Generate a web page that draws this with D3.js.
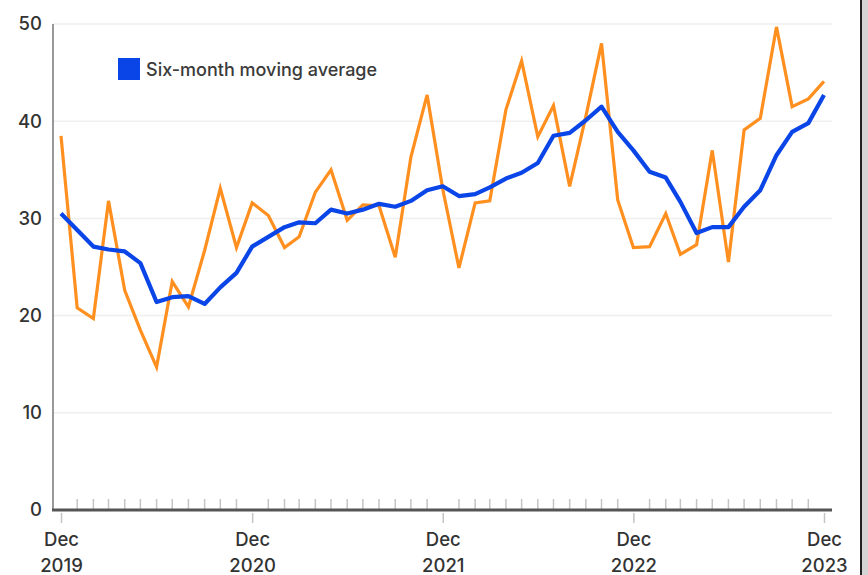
<!DOCTYPE html>
<html>
<head>
<meta charset="utf-8">
<script src="https://cdn.jsdelivr.net/npm/d3@7"></script>
<style>
  html, body { margin: 0; padding: 0; background: #fff; }
  svg { display: block; font-family: Inter, "Noto Sans", sans-serif; }
  .tick text { fill: #333; }
</style>
</head>
<body>
<div id="chart"></div>
<script>
// monthly values, Dec 2019 .. Dec 2023
var startMonth = '2019-12';
var monthly = [
  38.5, 20.8, 19.7, 31.8, 22.6, 18.5, 14.7, 23.5, 20.9, 26.7, 33.1, 27.0,
  31.6, 30.3, 27.0, 28.1, 32.7, 35.0, 29.8, 31.4, 31.3, 26.0, 36.3, 42.7,
  33.0, 24.9, 31.6, 31.8, 41.2, 46.2, 38.4, 41.6, 33.3, 40.5, 48.0, 31.9,
  27.0, 27.1, 30.5, 26.3, 27.3, 37.0, 25.5, 39.1, 40.3, 49.7, 41.5, 42.3,
  44.1
];
var movingAvg = [
  30.5, 28.8, 27.1, 26.8, 26.6, 25.4, 21.4, 21.9, 22.0, 21.2, 22.9, 24.4,
  27.1, 28.1, 29.1, 29.6, 29.5, 30.9, 30.5, 30.9, 31.5, 31.2, 31.8, 32.9,
  33.3, 32.3, 32.5, 33.2, 34.1, 34.7, 35.7, 38.5, 38.8, 40.1, 41.5, 38.9,
  37.0, 34.8, 34.2, 31.7, 28.5, 29.1, 29.1, 31.2, 32.9, 36.5, 38.9, 39.8,
  42.7
];
var yTicks = [0, 10, 20, 30, 40, 50];
var legendLabel = 'Six-month moving average';

var width = 868, height = 575;
var orange = '#ff8f1f', blue = '#0a45e8';
var font = 'Inter, "Noto Sans", sans-serif';

var parse = d3.utcParse('%Y-%m');
var t0 = parse(startMonth);
var months = monthly.map(function(v, i) { return d3.utcMonth.offset(t0, i); });

var x = d3.scaleUtc()
  .domain([months[0], months[months.length - 1]])
  .range([61, 824]);
var y = d3.scaleLinear()
  .domain([0, 50])
  .range([510, 24]);

var svg = d3.select('#chart').append('svg')
  .attr('width', width)
  .attr('height', height);

// right frame edge
svg.append('rect')
  .attr('x', 862).attr('y', 0).attr('width', 6).attr('height', height)
  .attr('fill', '#d4d4d4');
svg.append('rect')
  .attr('x', 860).attr('y', 0).attr('width', 2).attr('height', height)
  .attr('fill', '#222');

// gridlines
svg.append('g')
  .selectAll('line')
  .data(yTicks.slice(1))
  .enter().append('line')
  .attr('x1', 53)
  .attr('x2', 832)
  .attr('y1', function(d) { return y(d); })
  .attr('y2', function(d) { return y(d); })
  .attr('stroke', '#efefef')
  .attr('stroke-width', 1.5);

// y axis
var yAxis = svg.append('g')
  .attr('transform', 'translate(53,0)')
  .call(d3.axisLeft(y).tickValues(yTicks).tickSize(0).tickPadding(11));
yAxis.select('.domain')
  .attr('d', 'M0,' + y(50) + 'V' + y(0))
  .attr('stroke', '#777')
  .attr('stroke-width', 1.5);
yAxis.selectAll('.tick text')
  .attr('font-size', 18.5)
  .attr('font-weight', 500)
  .attr('font-family', font);

// minor ticks (every month but December) go up from the axis
var minor = months.filter(function(d) { return d.getUTCMonth() !== 11; });
var majors = months.filter(function(d) { return d.getUTCMonth() === 11; });

svg.append('g')
  .selectAll('line')
  .data(minor)
  .enter().append('line')
  .attr('x1', function(d) { return x(d); })
  .attr('x2', function(d) { return x(d); })
  .attr('y1', 499)
  .attr('y2', 510)
  .attr('stroke', '#c4c4c4')
  .attr('stroke-width', 1.5);

// x axis with December ticks
var xAxis = svg.append('g')
  .attr('transform', 'translate(0,511)')
  .call(d3.axisBottom(x)
    .tickValues(majors)
    .tickSize(12)
    .tickPadding(10)
    .tickFormat(d3.utcFormat('%b|%Y')));
xAxis.select('.domain').remove();
xAxis.selectAll('.tick line')
  .attr('stroke', '#c4c4c4')
  .attr('stroke-width', 1.5)
  .attr('y1', 2);
xAxis.selectAll('.tick text')
  .attr('font-size', 18.5)
  .attr('font-weight', 500)
  .attr('font-family', font)
  .each(function(d) {
    var parts = d3.utcFormat('%b|%Y')(d).split('|');
    var t = d3.select(this).text(null);
    t.append('tspan').attr('x', 0).attr('dy', '0.71em').text(parts[0]);
    t.append('tspan').attr('x', 0).attr('dy', '1.42em').text(parts[1]);
  });
svg.append('line')
  .attr('x1', 52).attr('x2', 832)
  .attr('y1', 510).attr('y2', 510)
  .attr('stroke', '#555')
  .attr('stroke-width', 3);

// lines
var line = d3.line()
  .x(function(d, i) { return x(months[i]); })
  .y(function(d) { return y(d); });

svg.append('path')
  .datum(monthly)
  .attr('fill', 'none')
  .attr('stroke', orange)
  .attr('stroke-width', 3.2)
  .attr('stroke-linejoin', 'miter')
  .attr('d', line);

svg.append('path')
  .datum(movingAvg)
  .attr('fill', 'none')
  .attr('stroke', blue)
  .attr('stroke-width', 4.2)
  .attr('stroke-linejoin', 'round')
  .attr('d', line);

// legend
var legend = svg.append('g').attr('transform', 'translate(118,58)');
legend.append('rect')
  .attr('width', 22)
  .attr('height', 22)
  .attr('fill', blue);
legend.append('text')
  .attr('x', 28)
  .attr('y', 18)
  .attr('font-size', 18)
  .attr('font-weight', 500)
  .attr('fill', '#3a3a3a')
  .text(legendLabel);
</script>
</body>
</html>
